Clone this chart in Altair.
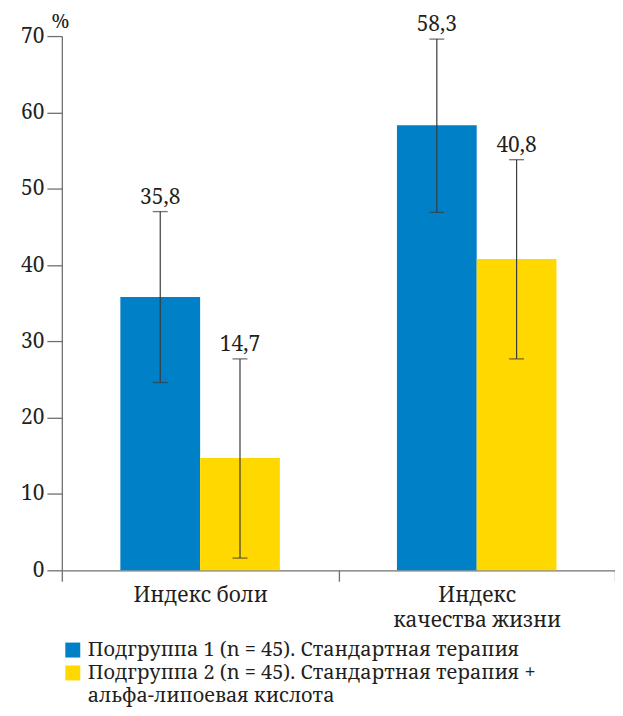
import altair as alt
import pandas as pd

categories = ["Индекс боли", "Индекс\nкачества жизни"]
groups = ["Подгруппа 1 (n = 45). Стандартная терапия",
          "Подгруппа 2 (n = 45). Стандартная терапия +"]
legend_extra = "альфа-липоевая кислота"
values = [35.8, 14.7, 58.3, 40.8]
err_low = [24.6, 1.6, 46.9, 27.7]
err_high = [47.0, 27.7, 69.6, 53.8]
labels = ["35,8", "14,7", "58,3", "40,8"]
colors = ["#0080C6", "#FFD800"]

rows = []
i = 0
for c in categories:
    for g in groups:
        rows.append({"cat": c, "grp": g, "val": values[i], "lo": err_low[i],
                     "hi": err_high[i], "lab": labels[i]})
        i += 1
df = pd.DataFrame(rows)

FONT = "Noto Serif"
TXT = "#231F20"
AX = "#707070"
ERR = "#3A3A3A"

x = alt.X("cat:N", sort=categories, title=None,
          scale=alt.Scale(paddingInner=0, paddingOuter=0),
          axis=alt.Axis(labelExpr="split(datum.label, '\\n')", labelAngle=0,
                        tickBand="extent", tickSize=11, tickColor=AX, domainColor=AX,
                        tickWidth=1.3, domainWidth=1.3,
                        labelFont=FONT, labelFontSize=21, labelColor=TXT,
                        labelPadding=3, labelLineHeight=25))
xo = alt.XOffset("grp:N", sort=groups,
                 scale=alt.Scale(domain=groups, paddingInner=0, paddingOuter=0.734))

base = alt.Chart(df)

bars = base.mark_bar().encode(
    x=x, xOffset=xo,
    y=alt.Y("val:Q", scale=alt.Scale(domain=[0, 70]),
            axis=alt.Axis(values=list(range(0, 71, 10)), tickSize=15, grid=False,
                          tickColor=AX, domainColor=AX, tickWidth=1.3, domainWidth=1.3,
                          labelFont=FONT, labelFontSize=21,
                          labelColor=TXT, labelPadding=3, title="%", titleAngle=0,
                          titleFont=FONT, titleFontSize=20, titleFontWeight="normal",
                          titleColor=TXT, titleAlign="center", titleBaseline="alphabetic",
                          titleX=-2, titleY=-9)),
    color=alt.Color("grp:N",
                    scale=alt.Scale(domain=groups + [legend_extra],
                                    range=colors + ["rgba(0,0,0,0)"]),
                    legend=alt.Legend(title=None, orient="none", legendX=1, legendY=606,
                                      symbolType="square", symbolSize=225,
                                      symbolStrokeWidth=0, labelFont=FONT,
                                      labelFontSize=20, labelColor=TXT,
                                      labelLimit=600, rowPadding=3, labelOffset=5)),
)

rules = base.mark_rule(color=ERR, strokeWidth=1.2).encode(
    x=x, xOffset=xo, y="lo:Q", y2="hi:Q")
cap_lo = base.mark_tick(color=ERR, size=15, thickness=1.3).encode(
    x=x, xOffset=xo, y="lo:Q")
cap_hi = base.mark_tick(color=ERR, size=15, thickness=1.3).encode(
    x=x, xOffset=xo, y="hi:Q")
text = base.mark_text(font=FONT, fontSize=21, color=TXT, baseline="alphabetic", dy=-8).encode(
    x=x, xOffset=xo, y="hi:Q", text="lab:N")

chart = alt.layer(bars, rules, cap_lo, cap_hi, text).properties(
    width=555, height=536,
    autosize=alt.AutoSizeParams(type="none"),
    padding={"left": 54, "top": 27, "right": 0, "bottom": 138}
).configure(font=FONT).configure_view(stroke=None)

chart.save("out.html", embed_options={"renderer": "svg", "actions": False})
